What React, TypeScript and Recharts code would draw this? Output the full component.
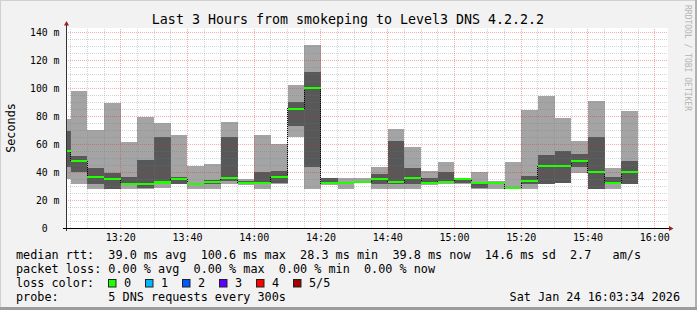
import React from 'react';
import { ComposedChart, Area, Line, XAxis, YAxis, ReferenceLine } from 'recharts';

// 5 minute slots (slot start), 5 DNS pings each, values in ms
const SLOTS = [
  '13:00', '13:05', '13:10', '13:15', '13:20', '13:25', '13:30', '13:35', '13:40', '13:45', '13:50', '13:55',
  '14:00', '14:05', '14:10', '14:15', '14:20', '14:25', '14:30', '14:35', '14:40', '14:45', '14:50', '14:55',
  '15:00', '15:05', '15:10', '15:15', '15:20', '15:25', '15:30', '15:35', '15:40', '15:45', '15:50',
];
const RTT_MIN = [
  35.3, 31.7, 28.1, 28.3, 28.3, 28.3, 29.0, 31.5, 28.3, 28.3, 31.7, 31.0,
  28.3, 31.5, 64.9, 28.3, 31.0, 28.3, 32.2, 28.3, 28.3, 28.3, 31.0, 31.7,
  31.7, 28.3, 28.3, 28.3, 28.3, 31.7, 32.4, 39.1, 28.3, 28.3, 31.7,
];
const RTT_P2 = [
  43.4, 39.8, 31.7, 28.3, 31.5, 28.5, 32.0, 31.7, 31.0, 31.7, 33.8, 31.5,
  31.5, 32.5, 73.4, 43.4, 31.3, 31.8, 32.4, 31.7, 31.7, 31.7, 31.5, 32.0,
  32.0, 28.5, 32.2, 28.3, 31.7, 31.7, 32.6, 43.4, 28.3, 31.7, 31.7,
];
const RTT_MEDIAN = [
  55.5, 47.7, 36.2, 35.3, 31.7, 31.7, 32.6, 35.3, 31.7, 32.8, 35.5, 31.9,
  31.9, 36.6, 85.5, 100.6, 31.9, 32.0, 32.8, 35.3, 32.7, 35.5, 32.5, 33.3,
  35.4, 32.2, 32.4, 28.4, 33.6, 44.1, 44.1, 47.7, 39.8, 32.4, 39.8,
];
const RTT_P4 = [
  69.6, 51.8, 43.2, 39.6, 36.6, 48.8, 65.4, 36.5, 32.5, 34.1, 65.5, 33.5,
  39.8, 41.1, 90.4, 111.9, 35.5, 32.8, 34.0, 38.9, 62.5, 43.3, 35.8, 39.8,
  35.8, 32.5, 32.8, 29.0, 37.4, 52.5, 55.3, 53.3, 65.4, 36.7, 48.2,
];
const RTT_MAX = [
  78.2, 98.3, 70.4, 89.7, 61.7, 79.7, 75.4, 66.5, 44.1, 46.0, 76.2, 34.9,
  66.8, 60.3, 102.6, 131.2, 35.8, 35.8, 35.8, 43.4, 71.1, 58.3, 41.0, 47.0,
  36.0, 39.8, 33.4, 47.0, 84.7, 94.9, 79.0, 62.5, 91.1, 43.2, 84.0,
];

const X_TICKS = ['13:20', '13:40', '14:00', '14:20', '14:40', '15:00', '15:20', '15:40', '16:00'];
const Y_TICKS = [0, 20, 40, 60, 80, 100, 120, 140];

const LOSS_LABELS = ['0', '1', '2', '3', '4', '5/5'];
const LOSS_COLORS = ['#20ff00', '#00b8ff', '#0059ff', '#5e00ff', '#ff0000', '#a10000'];

const LEGEND_LINES = [
  'median rtt:  39.0 ms avg  100.6 ms max  28.3 ms min  39.8 ms now  14.6 ms sd  2.7   am/s',
  'packet loss: 0.00 % avg  0.00 % max  0.00 % min  0.00 % now',
  'loss color:',
  'probe:       5 DNS requests every 300s',
];

const W = 697;
const H = 310;
const FONT = '"DejaVu Sans Mono", monospace';
const T0 = 3.6; // minutes after 13:00 at the left edge
const T1 = 183.97;
const Y_MAX = 143.3;
const BAND = 1.45; // median band thickness in ms (~2px)

const toMin = (s: string) => {
  const [h, m] = s.split(':').map(Number);
  return h * 60 + m - 780;
};
const fmtMin = (v: number) => {
  const h = 13 + Math.floor(v / 60);
  const m = Math.round(v % 60);
  return `${h}:${m < 10 ? '0' : ''}${m}`;
};

const data = SLOTS.map((s, i) => ({
  t: toMin(s),
  base: RTT_MIN[i],
  lo: RTT_P2[i] - RTT_MIN[i],
  mid: RTT_P4[i] - RTT_P2[i],
  hi: RTT_MAX[i] - RTT_P4[i],
  med: RTT_MEDIAN[i],
  medBase: RTT_MEDIAN[i] - BAND / 2,
  medBand: BAND,
}));
// closing row so the last step gets its width
data.push({ ...data[data.length - 1], t: data[data.length - 1].t + 5 });

const Y_MINOR: number[] = [];
for (let v = 5; v <= 140; v += 5) if (v % 20 !== 0) Y_MINOR.push(v);
const Y_MAJOR = Y_TICKS.filter((v) => v > 0);
const X_MINOR: number[] = [];
for (let t = 5; t <= 180; t += 5) if (t % 20 !== 0) X_MINOR.push(t);
const X_MAJOR = X_TICKS.map(toMin);

const MINOR = 'rgba(120,120,120,0.32)';
const MAJOR = 'rgba(230,40,40,0.38)';

export default function App() {
  return (
    <div style={{ position: 'absolute', left: 0, top: 0, width: W, height: H, background: '#f2f2f2' }}>
      <div style={{ position: 'absolute', left: 66, top: 28, width: 602, height: 200, background: '#fff' }} />
      <div style={{ position: 'absolute', left: 0, top: 0, shapeRendering: 'crispEdges' }}>
        <ComposedChart width={W} height={H} data={data} margin={{ top: 28, right: 29, bottom: 52, left: 0 }}>
          <XAxis
            dataKey="t"
            type="number"
            domain={[T0, T1]}
            allowDataOverflow
            ticks={X_MAJOR}
            height={30}
            axisLine={false}
            tickLine={false}
            tickSize={0}
            tickMargin={0}
            tick={({ x, y, payload }: any) => (
              <text x={x} y={y + 13} textAnchor="middle" fontFamily={FONT} fontSize={10} fill="#000">
                {fmtMin(payload.value)}
              </text>
            )}
          />
          <YAxis
            type="number"
            domain={[0, Y_MAX]}
            allowDataOverflow
            ticks={Y_TICKS}
            width={66}
            axisLine={false}
            tickLine={false}
            tickSize={0}
            tickMargin={0}
            tick={({ x, y, payload }: any) => (
              <text x={x - 6.5} y={y + 3.6} textAnchor="end" fontFamily={FONT} fontSize={9.8} fill="#000" style={{ whiteSpace: 'pre' }}>
                {payload.value === 0 ? '0  ' : `${payload.value} m`}
              </text>
            )}
          />
          <Area dataKey="base" stackId="smoke" type="stepAfter" fill="none" stroke="none" isAnimationActive={false} zIndex={100} />
          <Area dataKey="lo" stackId="smoke" type="stepAfter" fill="#a4a4a4" fillOpacity={1} stroke="none" isAnimationActive={false} zIndex={100} />
          <Area dataKey="mid" stackId="smoke" type="stepAfter" fill="#585858" fillOpacity={1} stroke="none" isAnimationActive={false} zIndex={100} />
          <Area dataKey="hi" stackId="smoke" type="stepAfter" fill="#a4a4a4" fillOpacity={1} stroke="none" isAnimationActive={false} zIndex={100} />
          {Y_MINOR.map((v) => (
            <ReferenceLine key={`ym${v}`} y={v} stroke={MINOR} strokeWidth={1} strokeDasharray="1 1" zIndex={200} />
          ))}
          {X_MINOR.map((v) => (
            <ReferenceLine key={`xm${v}`} x={v} stroke={MINOR} strokeWidth={1} strokeDasharray="1 1" zIndex={200} />
          ))}
          {Y_MAJOR.map((v) => (
            <ReferenceLine key={`yM${v}`} y={v} stroke={MAJOR} strokeWidth={1} strokeDasharray="1 1" zIndex={210} />
          ))}
          {X_MAJOR.map((v) => (
            <ReferenceLine key={`xM${v}`} x={v} stroke={MAJOR} strokeWidth={1} strokeDasharray="1 1" zIndex={210} />
          ))}
          <Line dataKey="med" type="stepAfter" stroke="#000" strokeWidth={1} strokeDasharray="1 1" dot={false} activeDot={false} isAnimationActive={false} zIndex={300} />
          <Area dataKey="medBase" stackId="med" type="stepAfter" fill="none" stroke="none" isAnimationActive={false} zIndex={400} />
          <Area dataKey="medBand" stackId="med" type="stepAfter" fill={LOSS_COLORS[0]} fillOpacity={1} stroke="none" isAnimationActive={false} zIndex={400} />
        </ComposedChart>
      </div>
      <svg width={W} height={H} style={{ position: 'absolute', left: 0, top: 0, pointerEvents: 'none' }}>
        {/* frame */}
        <rect x={0} y={0} width={W} height={1} fill="#d0d0d0" />
        <rect x={0} y={0} width={1} height={H} fill="#d0d0d0" />
        <rect x={W - 2} y={0} width={2} height={H} fill="#b0b0b0" />
        <rect x={0} y={H - 3} width={W} height={3} fill="#9c9c9c" />
        {/* axes */}
        <line x1={66.5} y1={231} x2={66.5} y2={25} stroke="#333" strokeWidth={1} />
        <line x1={63} y1={228.5} x2={670} y2={228.5} stroke="#000" strokeWidth={1} />
        <polygon points="64,25.5 69,25.5 66.5,21" fill="#9c2020" />
        <polygon points="669,226 669,231 673.5,228.5" fill="#9c2020" />
        <text x={348} y={24} textAnchor="middle" fontFamily={FONT} fontSize={13.3} fill="#000">
          Last 3 Hours from smokeping to Level3 DNS 4.2.2.2
        </text>
        <text x={15} y={128} transform="rotate(-90 15 128)" textAnchor="middle" fontFamily={FONT} fontSize={11.8} fill="#000">
          Seconds
        </text>
        <text x={685} y={5} transform="rotate(90 685 5)" fontFamily={FONT} fontSize={8} fill="#b4b4b4">
          RRDTOOL / TOBI OETIKER
        </text>
        {LEGEND_LINES.map((line, i) => (
          <text key={i} x={16} y={258.5 + i * 14.15} fontFamily={FONT} fontSize={11.8} fill="#000" style={{ whiteSpace: 'pre' }}>
            {line}
          </text>
        ))}
        {LOSS_LABELS.map((lbl, i) => (
          <g key={lbl}>
            <rect x={108.5 + i * 37} y={279.5} width={7.5} height={7.5} fill={LOSS_COLORS[i]} stroke="#222" strokeWidth={1} />
            <text x={124 + i * 37} y={286.8} fontFamily={FONT} fontSize={11.8} fill="#000">
              {lbl}
            </text>
          </g>
        ))}
        <text x={680} y={300.9} textAnchor="end" fontFamily={FONT} fontSize={11.8} fill="#000">
          Sat Jan 24 16:03:34 2026
        </text>
      </svg>
    </div>
  );
}
